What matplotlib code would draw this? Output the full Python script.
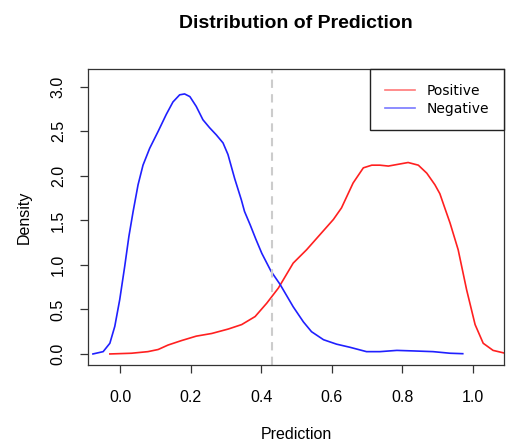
import numpy as np
import matplotlib
matplotlib.use("Agg")
import matplotlib.pyplot as plt

# density curves
neg_x = [-0.077, -0.048, -0.029, -0.015, -0.001, 0.013, 0.025, 0.037, 0.051, 0.065,
         0.084, 0.108, 0.131, 0.150, 0.169, 0.183, 0.198, 0.216, 0.235, 0.254,
         0.273, 0.292, 0.306, 0.325, 0.344, 0.353, 0.369, 0.385, 0.402, 0.428,
         0.454, 0.491, 0.520, 0.543, 0.577, 0.614, 0.652, 0.699, 0.737, 0.785,
         0.832, 0.888, 0.936, 0.972]
neg_y = [0.0, 0.026, 0.12, 0.31, 0.61, 0.98, 1.32, 1.60, 1.90, 2.12,
         2.31, 2.50, 2.69, 2.83, 2.91, 2.92, 2.89, 2.78, 2.63, 2.54,
         2.46, 2.37, 2.24, 1.97, 1.73, 1.60, 1.45, 1.29, 1.13, 0.93,
         0.78, 0.53, 0.36, 0.25, 0.16, 0.11, 0.075, 0.026, 0.026, 0.04,
         0.034, 0.026, 0.008, 0.003]

pos_x = [-0.029, 0.032, 0.079, 0.108, 0.136, 0.174, 0.216, 0.260, 0.307, 0.345,
         0.383, 0.416, 0.449, 0.470, 0.491, 0.529, 0.567, 0.605, 0.628, 0.661,
         0.690, 0.714, 0.737, 0.761, 0.789, 0.817, 0.846, 0.870, 0.893, 0.907,
         0.921, 0.936, 0.959, 0.983, 1.007, 1.030, 1.058, 1.090]
pos_y = [0.0, 0.008, 0.026, 0.05, 0.10, 0.15, 0.20, 0.23, 0.28, 0.33,
         0.42, 0.57, 0.74, 0.88, 1.02, 1.17, 1.34, 1.51, 1.64, 1.92,
         2.09, 2.12, 2.12, 2.11, 2.13, 2.15, 2.12, 2.03, 1.90, 1.80,
         1.64, 1.47, 1.17, 0.72, 0.33, 0.12, 0.04, 0.01]

cutoff = 0.43
x_ticks = [0.0, 0.2, 0.4, 0.6, 0.8, 1.0]
y_ticks = [0.0, 0.5, 1.0, 1.5, 2.0, 2.5, 3.0]

plt.rcParams['font.family'] = ['Liberation Sans', 'DejaVu Sans']

fig = plt.figure(figsize=(5.07, 4.43), dpi=100)
ax = fig.add_axes([88/507, (443-365)/443, (504-88)/507, (365-69)/443])

ax.plot(pos_x, pos_y, color='#ff2020', lw=1.2, label='Positive', solid_joinstyle='round')
ax.plot(neg_x, neg_y, color='#2020ff', lw=1.2, label='Negative', solid_joinstyle='round')
ax.axvline(cutoff, color='#cccccc', ls=(0, (4, 3)), lw=1.5)

ax.set_xlim(-0.091, 1.089)
ax.set_ylim(-0.124, 3.20)
ax.set_xticks(x_ticks)
ax.set_xticklabels(['%.1f' % v for v in x_ticks])
ax.set_yticks(y_ticks)
ax.set_yticklabels(['%.1f' % v for v in y_ticks])
for lab in ax.get_yticklabels():
    lab.set_rotation(90)
    lab.set_va('center')

ax.tick_params(axis='both', labelsize=11.5, length=6, width=0.9, color='#333333')
ax.tick_params(axis='x', pad=12)
ax.tick_params(axis='y', pad=10)
for s in ax.spines.values():
    s.set_color('#333333')
    s.set_linewidth(0.9)

ax.set_title('Distribution of Prediction', fontsize=14, fontweight='bold', pad=29.5)
ax.set_xlabel('Prediction', fontsize=11.5, labelpad=16)
ax.set_ylabel('Density', fontsize=11.5, labelpad=14)

leg = ax.legend(loc='upper right', borderaxespad=0, fancybox=False, framealpha=1,
                prop={'family': 'DejaVu Sans', 'size': 10}, handlelength=2.2,
                handletextpad=0.85, borderpad=1.05, labelspacing=0.3)
leg.get_frame().set_edgecolor('#222222')
leg.get_frame().set_linewidth(1.0)
for h in leg.get_lines():
    h.set_alpha(0.6)

fig.savefig('out.png', dpi=100)
